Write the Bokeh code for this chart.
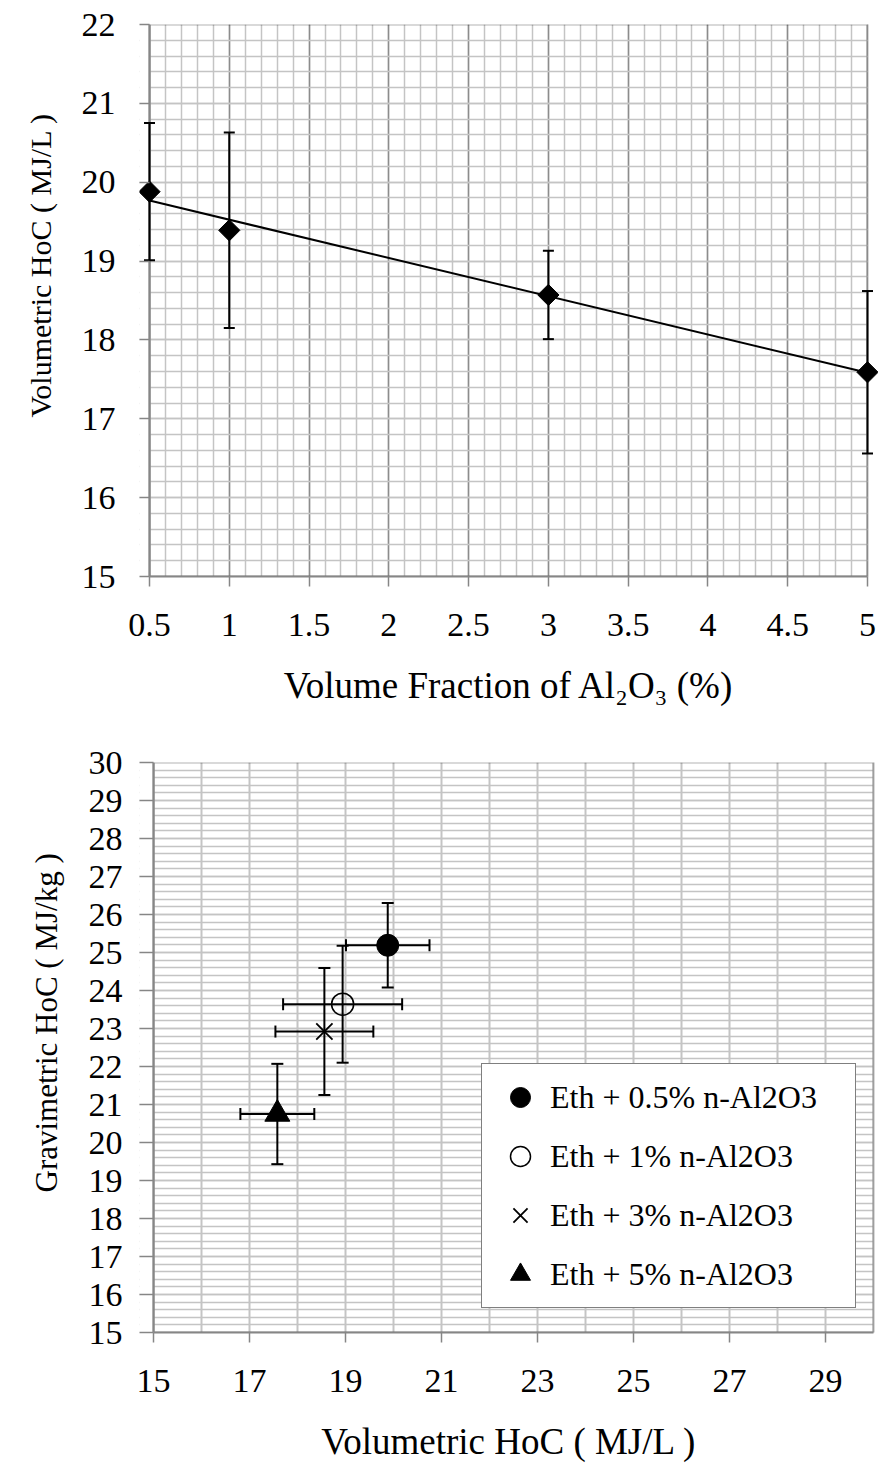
import numpy as np
from bokeh.plotting import figure
from bokeh.models import (ColumnDataSource, Whisker, TeeHead, FixedTicker, Span, Title,
                          BoxAnnotation, Legend, LegendItem, CustomJSTickFormatter)
from bokeh.layouts import column
from bokeh.embed import file_html
from bokeh.resources import INLINE

# ---------------- data: top chart ----------------
vol_fraction = [0.5, 1, 3, 5]
vol_hoc = [19.88, 19.39, 18.57, 17.59]
vol_hoc_err = [0.87, 1.24, 0.56, 1.03]
top_xticks = [0.5, 1, 1.5, 2, 2.5, 3, 3.5, 4, 4.5, 5]
top_yticks = [15, 16, 17, 18, 19, 20, 21, 22]

# ---------------- data: bottom chart ----------------
series_labels = ["Eth + 0.5% n-Al2O3", "Eth + 1% n-Al2O3",
                 "Eth + 3% n-Al2O3", "Eth + 5% n-Al2O3"]
grav_x = [19.88, 18.94, 18.56, 17.58]
grav_x_err = [0.87, 1.24, 1.02, 0.77]
grav_y = [25.19, 23.64, 22.92, 20.75]
grav_y_err = [1.11, 1.54, 1.67, 1.32]
bot_xticks = [15, 17, 19, 21, 23, 25, 27, 29]
bot_xlim = [15, 30]
bot_xgrid = list(range(15, 31))
bot_yticks = list(range(15, 31))

FONT = "Liberation Serif"
AX_GRAY = "#868686"
MINOR_GRAY = "#c4c4c4"
MAJOR_GRAY = "#8c8c8c"
FRAME_LEFT = 139          # shared frame edge of both stacked plots
CANVAS_W = 878


def style_axes(p, pad_left, ylab_standoff):
    for ax in (p.xaxis[0], p.yaxis[0]):
        ax.axis_line_color = AX_GRAY
        ax.axis_line_width = 2
        ax.major_tick_line_color = AX_GRAY
        ax.major_tick_line_width = 1.5
        ax.major_tick_out = 10
        ax.major_tick_in = 0
        ax.minor_tick_out = 0
        ax.minor_tick_in = 0
        ax.minor_tick_line_color = None
        ax.major_label_text_font = FONT
        ax.major_label_text_font_size = "34px"
        ax.major_label_text_color = "black"
        ax.axis_label_text_font = FONT
        ax.axis_label_text_font_style = "normal"
        ax.axis_label_text_color = "black"
    p.xaxis[0].axis_label_text_font_size = "37px"
    p.xaxis[0].major_label_standoff = 27
    p.xaxis[0].axis_label_standoff = 26
    # y axis: ticks drawn inside the small left padding, ending at the data edge
    p.yaxis[0].axis_line_color = None
    p.yaxis[0].major_tick_out = 0
    p.yaxis[0].major_tick_in = pad_left
    p.yaxis[0].major_label_standoff = ylab_standoff
    p.outline_line_color = None


def frame_decor(p, xa, xb, ya, yb, xs0, xs1):
    # blank the padding strips, draw black top/right border and grey left axis line
    p.add_layout(BoxAnnotation(left=xs0, right=xa, fill_color="white", fill_alpha=1.0,
                               line_color=None, level="underlay"))
    p.add_layout(BoxAnnotation(left=xb, right=xs1, fill_color="white", fill_alpha=1.0,
                               line_color=None, level="underlay"))
    p.add_layout(BoxAnnotation(left=xa, right=xb, bottom=ya, top=yb,
                               fill_color=None, fill_alpha=0, line_color="black",
                               line_width=2, level="underlay"))
    p.add_layout(Span(location=xa, dimension="height", line_color=AX_GRAY, line_width=2,
                      level="underlay"))


def ytitle(text, size, offset, standoff):
    return Title(text=text, align="right", vertical_align="top", offset=offset,
                 standoff=standoff, text_font=FONT, text_font_size=size,
                 text_font_style="normal", text_color="black")


# ================= top figure =================
x0, x1 = min(top_xticks), max(top_xticks)
t_pad_l, t_pad_r = 10, 11
t_unit = (x1 - x0) / (CANVAS_W - FRAME_LEFT - t_pad_l - t_pad_r)
t_xs0, t_xs1 = x0 - t_pad_l * t_unit, x1 + t_pad_r * t_unit
ylo, yhi = min(top_yticks), max(top_yticks)
p1 = figure(width=CANVAS_W, height=730, x_range=(t_xs0, t_xs1), y_range=(ylo, yhi),
            output_backend="svg", toolbar_location=None,
            min_border_left=FRAME_LEFT, min_border_right=0, min_border_top=24,
            min_border_bottom=154)
p1.xaxis.ticker = FixedTicker(ticks=top_xticks,
                              minor_ticks=list(np.round(np.arange(0.5, 5.0001, 0.1), 2)))
p1.yaxis.ticker = FixedTicker(ticks=top_yticks,
                              minor_ticks=list(np.round(np.arange(15, 22.0001, 0.2), 2)))
p1.xaxis.formatter = CustomJSTickFormatter(code="return String(tick)")
p1.xaxis.bounds = (x0, x1)
p1.xgrid.grid_line_color = MAJOR_GRAY
p1.xgrid.grid_line_width = 1.5
p1.xgrid.minor_grid_line_color = MINOR_GRAY
p1.xgrid.minor_grid_line_width = 1.5
p1.ygrid.grid_line_color = MINOR_GRAY
p1.ygrid.grid_line_width = 1.5
p1.ygrid.minor_grid_line_color = MINOR_GRAY
p1.ygrid.minor_grid_line_width = 1.5
p1.xaxis.axis_label = "Volume Fraction of Al\u2082O\u2083 (%)"
style_axes(p1, t_pad_l, 24)
p1.add_layout(ytitle("Volumetric  HoC ( MJ/L )", "30px", 81, 40), "left")
frame_decor(p1, x0, x1, ylo, yhi, t_xs0, t_xs1)

src1 = ColumnDataSource(dict(
    x=vol_fraction, y=vol_hoc,
    upper=[v + e for v, e in zip(vol_hoc, vol_hoc_err)],
    lower=[v - e for v, e in zip(vol_hoc, vol_hoc_err)]))
p1.add_layout(Whisker(source=src1, base="x", upper="upper", lower="lower",
                      dimension="height", line_color="black", line_width=2,
                      upper_head=TeeHead(size=11, line_color="black", line_width=2),
                      lower_head=TeeHead(size=11, line_color="black", line_width=2)))
slope, intercept = np.polyfit(vol_fraction, vol_hoc, 1)
trend_x = [min(vol_fraction), max(vol_fraction)]
p1.line(trend_x, [slope * t + intercept for t in trend_x], line_color="black", line_width=2)
p1.scatter("x", "y", source=src1, marker="square", angle=np.pi / 4, size=15,
           fill_color="black", line_color="black")

# ================= bottom figure =================
bx0, bx1 = bot_xlim
b_pad_l, b_pad_r = 14, 5
b_unit = (bx1 - bx0) / (CANVAS_W - FRAME_LEFT - b_pad_l - b_pad_r)
b_xs0, b_xs1 = bx0 - b_pad_l * b_unit, bx1 + b_pad_r * b_unit
bylo, byhi = min(bot_yticks), max(bot_yticks)
p2 = figure(width=CANVAS_W, height=735, x_range=(b_xs0, b_xs1), y_range=(bylo, byhi),
            output_backend="svg", toolbar_location=None,
            min_border_left=FRAME_LEFT, min_border_right=0, min_border_top=32,
            min_border_bottom=133)
p2.xaxis.ticker = FixedTicker(ticks=bot_xticks)
p2.xgrid.ticker = FixedTicker(ticks=bot_xgrid)
p2.yaxis.ticker = FixedTicker(ticks=bot_yticks,
                              minor_ticks=list(np.round(np.arange(15, 30.0001, 0.2), 2)))
p2.xaxis.bounds = (bx0, bx1)
p2.xgrid.grid_line_color = MINOR_GRAY
p2.xgrid.grid_line_width = 2
p2.ygrid.grid_line_color = MINOR_GRAY
p2.ygrid.grid_line_width = 1.5
p2.ygrid.minor_grid_line_color = MINOR_GRAY
p2.ygrid.minor_grid_line_width = 1.5
p2.xaxis.axis_label = "Volumetric HoC ( MJ/L )"
style_axes(p2, b_pad_l, 17)
p2.add_layout(ytitle("Gravimetric  HoC ( MJ/kg )", "31px", 83, 40), "left")
frame_decor(p2, bx0, bx1, bylo, byhi, b_xs0, b_xs1)

items = []
for i, lab in enumerate(series_labels):
    s = ColumnDataSource(dict(
        x=[grav_x[i]], y=[grav_y[i]],
        xl=[grav_x[i] - grav_x_err[i]], xu=[grav_x[i] + grav_x_err[i]],
        yl=[grav_y[i] - grav_y_err[i]], yu=[grav_y[i] + grav_y_err[i]]))
    p2.add_layout(Whisker(source=s, base="x", upper="yu", lower="yl", dimension="height",
                          line_color="black", line_width=2,
                          upper_head=TeeHead(size=12, line_color="black", line_width=2),
                          lower_head=TeeHead(size=12, line_color="black", line_width=2)))
    p2.add_layout(Whisker(source=s, base="y", upper="xu", lower="xl", dimension="width",
                          line_color="black", line_width=2,
                          upper_head=TeeHead(size=12, line_color="black", line_width=2),
                          lower_head=TeeHead(size=12, line_color="black", line_width=2)))
    if i == 0:
        r = p2.scatter("x", "y", source=s, marker="circle", size=22,
                       fill_color="black", line_color="black")
    elif i == 1:
        r = p2.scatter("x", "y", source=s, marker="circle", size=22,
                       fill_color=None, line_color="black", line_width=1.5)
    elif i == 2:
        r = p2.scatter("x", "y", source=s, marker="x", size=23,
                       line_color="black", line_width=1.8)
    else:
        r = p2.scatter("x", "y", source=s, marker="triangle", size=25,
                       fill_color="black", line_color="black")
    items.append(LegendItem(label=lab, renderers=[r]))

legend = Legend(items=items, location=(481 - FRAME_LEFT, 24), orientation="vertical",
                label_text_font=FONT, label_text_font_size="32px",
                label_text_color="black",
                border_line_color="black", border_line_width=1.5,
                background_fill_color="white", background_fill_alpha=1.0,
                padding=8, spacing=9, margin=0,
                glyph_width=60, glyph_height=50, label_height=50,
                label_standoff=0, label_width=297)
p2.add_layout(legend)

layout = column(p1, p2, spacing=0)
open("out.html", "w").write(file_html(layout, INLINE))
